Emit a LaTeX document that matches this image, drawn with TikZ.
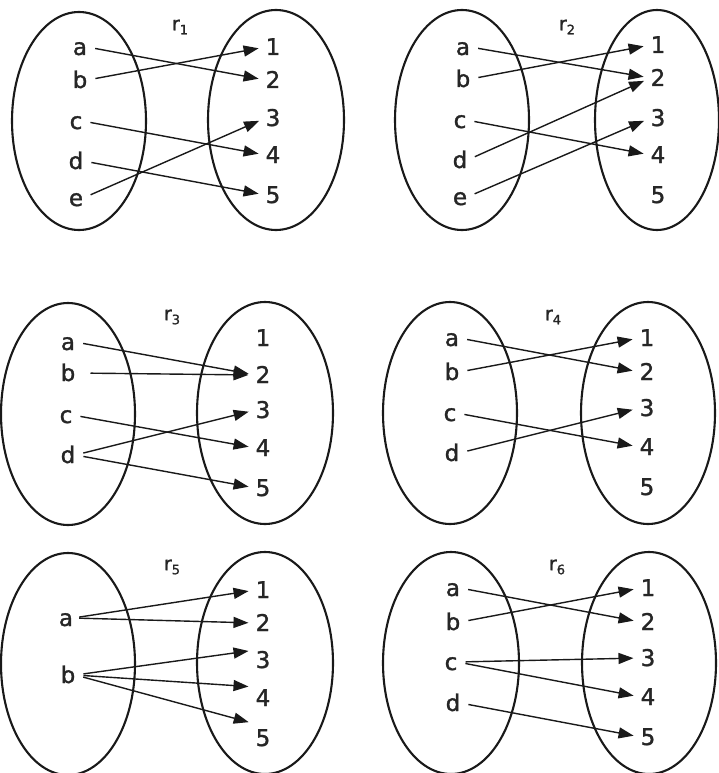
\documentclass[tikz,border=0pt]{standalone}
\usepackage{fontspec}
\setmainfont{DejaVu Sans}
\newfontfamily\setfont[FakeBold=1.3]{DejaVu Sans}
\usetikzlibrary{arrows.meta}
\begin{document}
\begin{tikzpicture}[x=1pt,y=-1pt,
  setline/.style={line width=2.1pt, black!90},
  el/.style={font=\setfont\fontsize{23}{25}\selectfont, text=black!85, inner sep=0pt, text height=16pt, text depth=0pt},
  rel/.style={font=\setfont\fontsize{19}{21}\selectfont, text=black!85, inner sep=0pt},
  map/.style={line width=1.4pt, black!90, -{Triangle[length=15pt,width=11pt]}, shorten <=8pt, shorten >=7pt}
]
\useasboundingbox[fill=white] (0,0) rectangle (718,773);
\newcommand{\rlab}[1]{r\raisebox{-4pt}{\fontsize{13}{14}\selectfont #1}}

% ---------- r1 ----------
\draw[setline] (79,121) ellipse [x radius=67pt, y radius=109pt];
\draw[setline] (276,120) ellipse [x radius=68pt, y radius=110pt];
\node[rel] (t1) at (180,27) {\rlab{1}};
\node[el] (p1a) at (80,47) {a};
\node[el] (p1b) at (80,80) {b};
\node[el] (p1c) at (76,121) {c};
\node[el] (p1d) at (76,161) {d};
\node[el] (p1e) at (76,198) {e};
\node[el] (p1n1) at (273,47) {1};
\node[el] (p1n2) at (273,80) {2};
\node[el] (p1n3) at (273,118) {3};
\node[el] (p1n4) at (273,155) {4};
\node[el] (p1n5) at (273,195) {5};
\draw[map] (p1a.east) -- (p1n2.west);
\draw[map] (p1b.east) -- (p1n1.west);
\draw[map] (p1c.east) -- (p1n4.west);
\draw[map] (p1d.east) -- (p1n5.west);
\draw[map] (p1e.east) -- (p1n3.west);

% ---------- r2 ----------
\draw[setline] (462,120) ellipse [x radius=67pt, y radius=110pt];
\draw[setline] (657,120) ellipse [x radius=62pt, y radius=110pt];
\node[rel] (t2) at (567,27) {\rlab{2}};
\node[el] (p2a) at (463,47) {a};
\node[el] (p2b) at (463,79) {b};
\node[el] (p2c) at (460,120) {c};
\node[el] (p2d) at (460,160) {d};
\node[el] (p2e) at (460,197) {e};
\node[el] (p2n1) at (658,45) {1};
\node[el] (p2n2) at (658,78) {2};
\node[el] (p2n3) at (658,118) {3};
\node[el] (p2n4) at (658,155) {4};
\node[el] (p2n5) at (658,195) {5};
\draw[map] (p2a.east) -- (p2n2.west);
\draw[map] (p2b.east) -- (p2n1.west);
\draw[map] (p2c.east) -- (p2n4.west);
\draw[map] (p2d.east) -- (p2n2.west);
\draw[map] (p2e.east) -- (p2n3.west);

% ---------- r3 ----------
\draw[setline] (68,414) ellipse [x radius=67pt, y radius=111pt];
\draw[setline] (265,413) ellipse [x radius=68pt, y radius=111pt];
\node[rel] (t3) at (172,317) {\rlab{3}};
\node[el] (p3a) at (68,342) {a};
\node[el] (p3b) at (68,373) {b};
\node[el] (p3c) at (66,415) {c};
\node[el] (p3d) at (68,455) {d};
\node[el] (p3n1) at (263,338) {1};
\node[el] (p3n2) at (263,375) {2};
\node[el] (p3n3) at (263,410) {3};
\node[el] (p3n4) at (263,448) {4};
\node[el] (p3n5) at (263,488) {5};
\draw[map] (p3a.east) -- (p3n2.west);
\draw[map, shorten <=15pt] (p3b.east) -- (p3n2.west);
\draw[map] (p3c.east) -- (p3n4.west);
\draw[map] (p3d.east) -- (p3n3.west);
\draw[map] (p3d.east) -- (p3n5.west);

% ---------- r4 ----------
\draw[setline] (450,413) ellipse [x radius=67pt, y radius=111pt];
\draw[setline] (648,413) ellipse [x radius=67pt, y radius=111pt];
\node[rel] (t4) at (553,317) {\rlab{4}};
\node[el] (p4a) at (452,338) {a};
\node[el] (p4b) at (452,372) {b};
\node[el] (p4c) at (450,413) {c};
\node[el] (p4d) at (452,453) {d};
\node[el] (p4n1) at (647,338) {1};
\node[el] (p4n2) at (647,372) {2};
\node[el] (p4n3) at (647,408) {3};
\node[el] (p4n4) at (647,447) {4};
\node[el] (p4n5) at (647,487) {5};
\draw[map] (p4a.east) -- (p4n2.west);
\draw[map] (p4b.east) -- (p4n1.west);
\draw[map] (p4c.east) -- (p4n4.west);
\draw[map] (p4d.east) -- (p4n3.west);

% ---------- r5 ----------
\draw[setline] (68,664) ellipse [x radius=67pt, y radius=111pt];
\draw[setline] (265,663) ellipse [x radius=68pt, y radius=111pt];
\node[rel] (t5) at (172,567) {\rlab{5}};
\node[el] (p5a) at (66,618) {a};
\node[el] (p5b) at (68,675) {b};
\node[el] (p5n1) at (263,590) {1};
\node[el] (p5n2) at (263,623) {2};
\node[el] (p5n3) at (263,660) {3};
\node[el] (p5n4) at (263,698) {4};
\node[el] (p5n5) at (263,738) {5};
\draw[map, shorten <=6pt] (p5a.east) -- (p5n1.west);
\draw[map, shorten <=6pt] (p5a.east) -- (p5n2.west);
\draw[map] (p5b.east) -- ([yshift=10pt]p5n3.west);
\draw[map] (p5b.east) -- ([yshift=11pt]p5n4.west);
\draw[map] (p5b.east) -- ([yshift=14pt]p5n5.west);

% ---------- r6 ----------
\draw[setline] (451,663) ellipse [x radius=68pt, y radius=111pt];
\draw[setline] (649,663) ellipse [x radius=67pt, y radius=111pt];
\node[rel] (t6) at (557,567) {\rlab{6}};
\node[el] (p6a) at (453,588) {a};
\node[el] (p6b) at (453,622) {b};
\node[el] (p6c) at (451,662) {c};
\node[el] (p6d) at (453,703) {d};
\node[el] (p6n1) at (648,588) {1};
\node[el] (p6n2) at (648,622) {2};
\node[el] (p6n3) at (648,658) {3};
\node[el] (p6n4) at (648,697) {4};
\node[el] (p6n5) at (648,737) {5};
\draw[map] (p6a.east) -- (p6n2.west);
\draw[map] (p6b.east) -- (p6n1.west);
\draw[map] (p6c.east) -- (p6n3.west);
\draw[map] (p6c.east) -- (p6n4.west);
\draw[map] (p6d.east) -- (p6n5.west);
\end{tikzpicture}
\end{document}
